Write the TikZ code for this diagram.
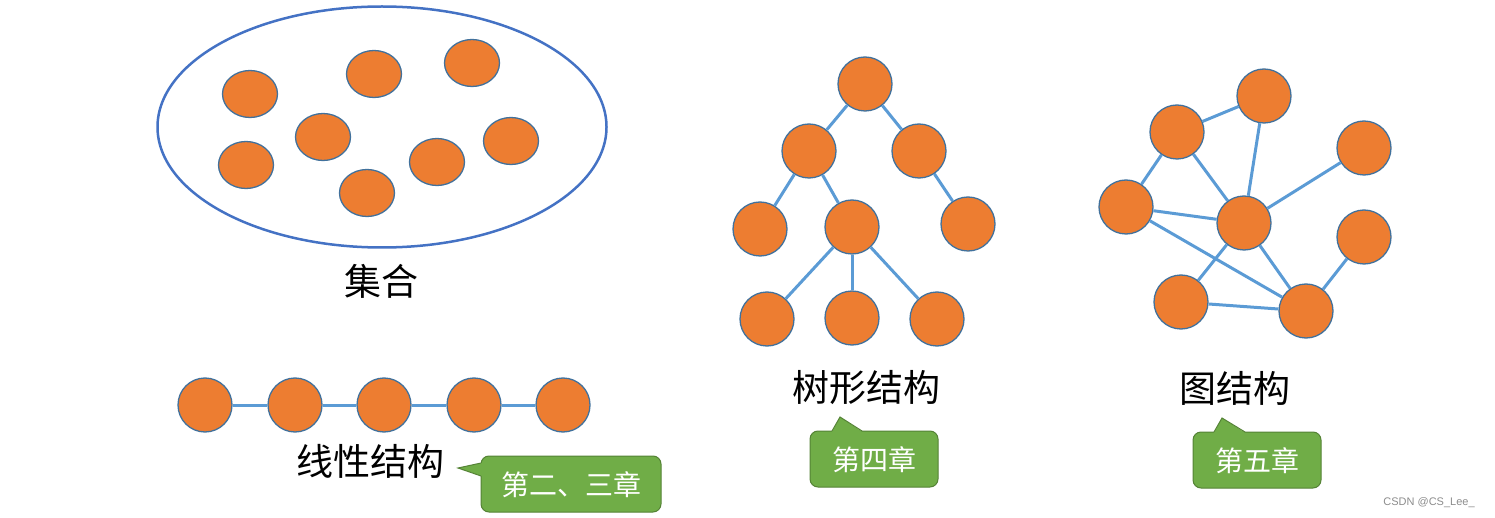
\documentclass[tikz,border=0pt]{standalone}
\usepackage{fontspec}
\setmainfont{Liberation Sans}
\newfontfamily\cjk{Noto Sans CJK SC}
\usetikzlibrary{shapes.geometric}
\definecolor{nodeorange}{HTML}{ED7D31}
\definecolor{nodeborder}{HTML}{41719C}
\definecolor{edgeblue}{HTML}{5B9BD5}
\definecolor{setblue}{HTML}{4472C4}
\definecolor{calloutgreen}{HTML}{70AD47}
\definecolor{calloutborder}{HTML}{548235}
\begin{document}
\begin{tikzpicture}[x=1pt,y=-1pt,
  dot/.style={circle,fill=nodeorange,draw=nodeborder,line width=1.3pt,minimum size=54pt,inner sep=0pt},
  sdot/.style={ellipse,fill=nodeorange,draw=nodeborder,line width=1.3pt,minimum width=55pt,minimum height=47pt,inner sep=0pt},
  link/.style={draw=edgeblue,line width=3pt},
  biglabel/.style={font=\cjk\fontsize{37}{40}\selectfont,inner sep=0pt},
  callout/.style={fill=calloutgreen,draw=calloutborder,line width=1pt,rounded corners=8pt},
  calloutfill/.style={fill=calloutgreen},
  calloutedge/.style={draw=calloutborder,line width=1pt,line join=miter},
  callouttext/.style={font=\cjk\fontsize{28}{30}\selectfont,text=white,inner sep=0pt}
]
\useasboundingbox (0,0) rectangle (1495,518);
% set
\node[ellipse,draw=setblue,line width=2.5pt,minimum width=449pt,minimum height=241pt,inner sep=0pt] (set) at (382,127) {};
\foreach \n/\x/\y in {s1/250/94,s2/374/74,s3/472/63,s4/323/137,s5/246/165,s6/437/162,s7/511/141,s8/367/193}
  \node[sdot] (\n) at (\x,\y) {};
\node[biglabel] (setlabel) at (381,281) {集合};
% linear
\foreach \n/\x in {l1/205,l2/295,l3/384,l4/474,l5/563}
  \node[dot] (\n) at (\x,405) {};
\foreach \a/\b in {l1/l2,l2/l3,l3/l4,l4/l5}
  \draw[link] (\a) -- (\b);
\node[biglabel] (linlabel) at (370,461) {线性结构};
% tree
\node[dot] (t0) at (865,84) {};
\node[dot] (t1) at (809,151) {};
\node[dot] (t2) at (919,151) {};
\node[dot] (t3) at (760,229) {};
\node[dot] (t4) at (852,227) {};
\node[dot] (t5) at (968,224) {};
\node[dot] (t6) at (767,319) {};
\node[dot] (t7) at (852,318) {};
\node[dot] (t8) at (937,319) {};
\foreach \a/\b in {t0/t1,t0/t2,t1/t3,t1/t4,t2/t5,t4/t6,t4/t7,t4/t8}
  \draw[link] (\a) -- (\b);
\node[biglabel] (treelabel) at (866,388) {树形结构};
% graph
\node[dot] (gA) at (1177,132) {};
\node[dot] (gB) at (1264,96) {};
\node[dot] (gC) at (1364,148) {};
\node[dot] (gD) at (1126,207) {};
\node[dot] (gE) at (1244,223) {};
\node[dot] (gF) at (1364,237) {};
\node[dot] (gG) at (1181,302) {};
\node[dot] (gH) at (1306,311) {};
\foreach \a/\b in {gA/gB,gA/gD,gA/gE,gB/gE,gC/gE,gD/gE,gD/gH,gE/gG,gE/gH,gF/gH,gG/gH}
  \draw[link] (\a) -- (\b);
\node[biglabel] (graphlabel) at (1235,388) {图结构};
% callout 1
\draw[callout] (481,456) rectangle (661,512);
\fill[calloutgreen] (481.6,463) -- (458,468) -- (481.6,476) -- (484,476) -- (484,463) -- cycle;
\draw[calloutedge] (481,463) -- (458,468) -- (481,476);
\node[callouttext] (c1) at (571,485) {第二、三章};
% callout 2
\draw[callout] (810,431) rectangle (938,487);
\fill[calloutgreen] (832,431.6) -- (840,417) -- (862,431.6) -- (862,434) -- (832,434) -- cycle;
\draw[calloutedge] (832,431) -- (840,417) -- (862,431);
\node[callouttext] (c2) at (874,460) {第四章};
% callout 3
\draw[callout] (1193,432) rectangle (1321,488);
\fill[calloutgreen] (1214,432.6) -- (1222,418) -- (1245,432.6) -- (1245,435) -- (1214,435) -- cycle;
\draw[calloutedge] (1214,432) -- (1222,418) -- (1245,432);
\node[callouttext] (c3) at (1257,461) {第五章};
% watermark
\node[font=\fontsize{11}{12}\selectfont,text=black!45,inner sep=0pt] (wm) at (1429,503) {CSDN @CS\_Lee\_};
\end{tikzpicture}
\end{document}
